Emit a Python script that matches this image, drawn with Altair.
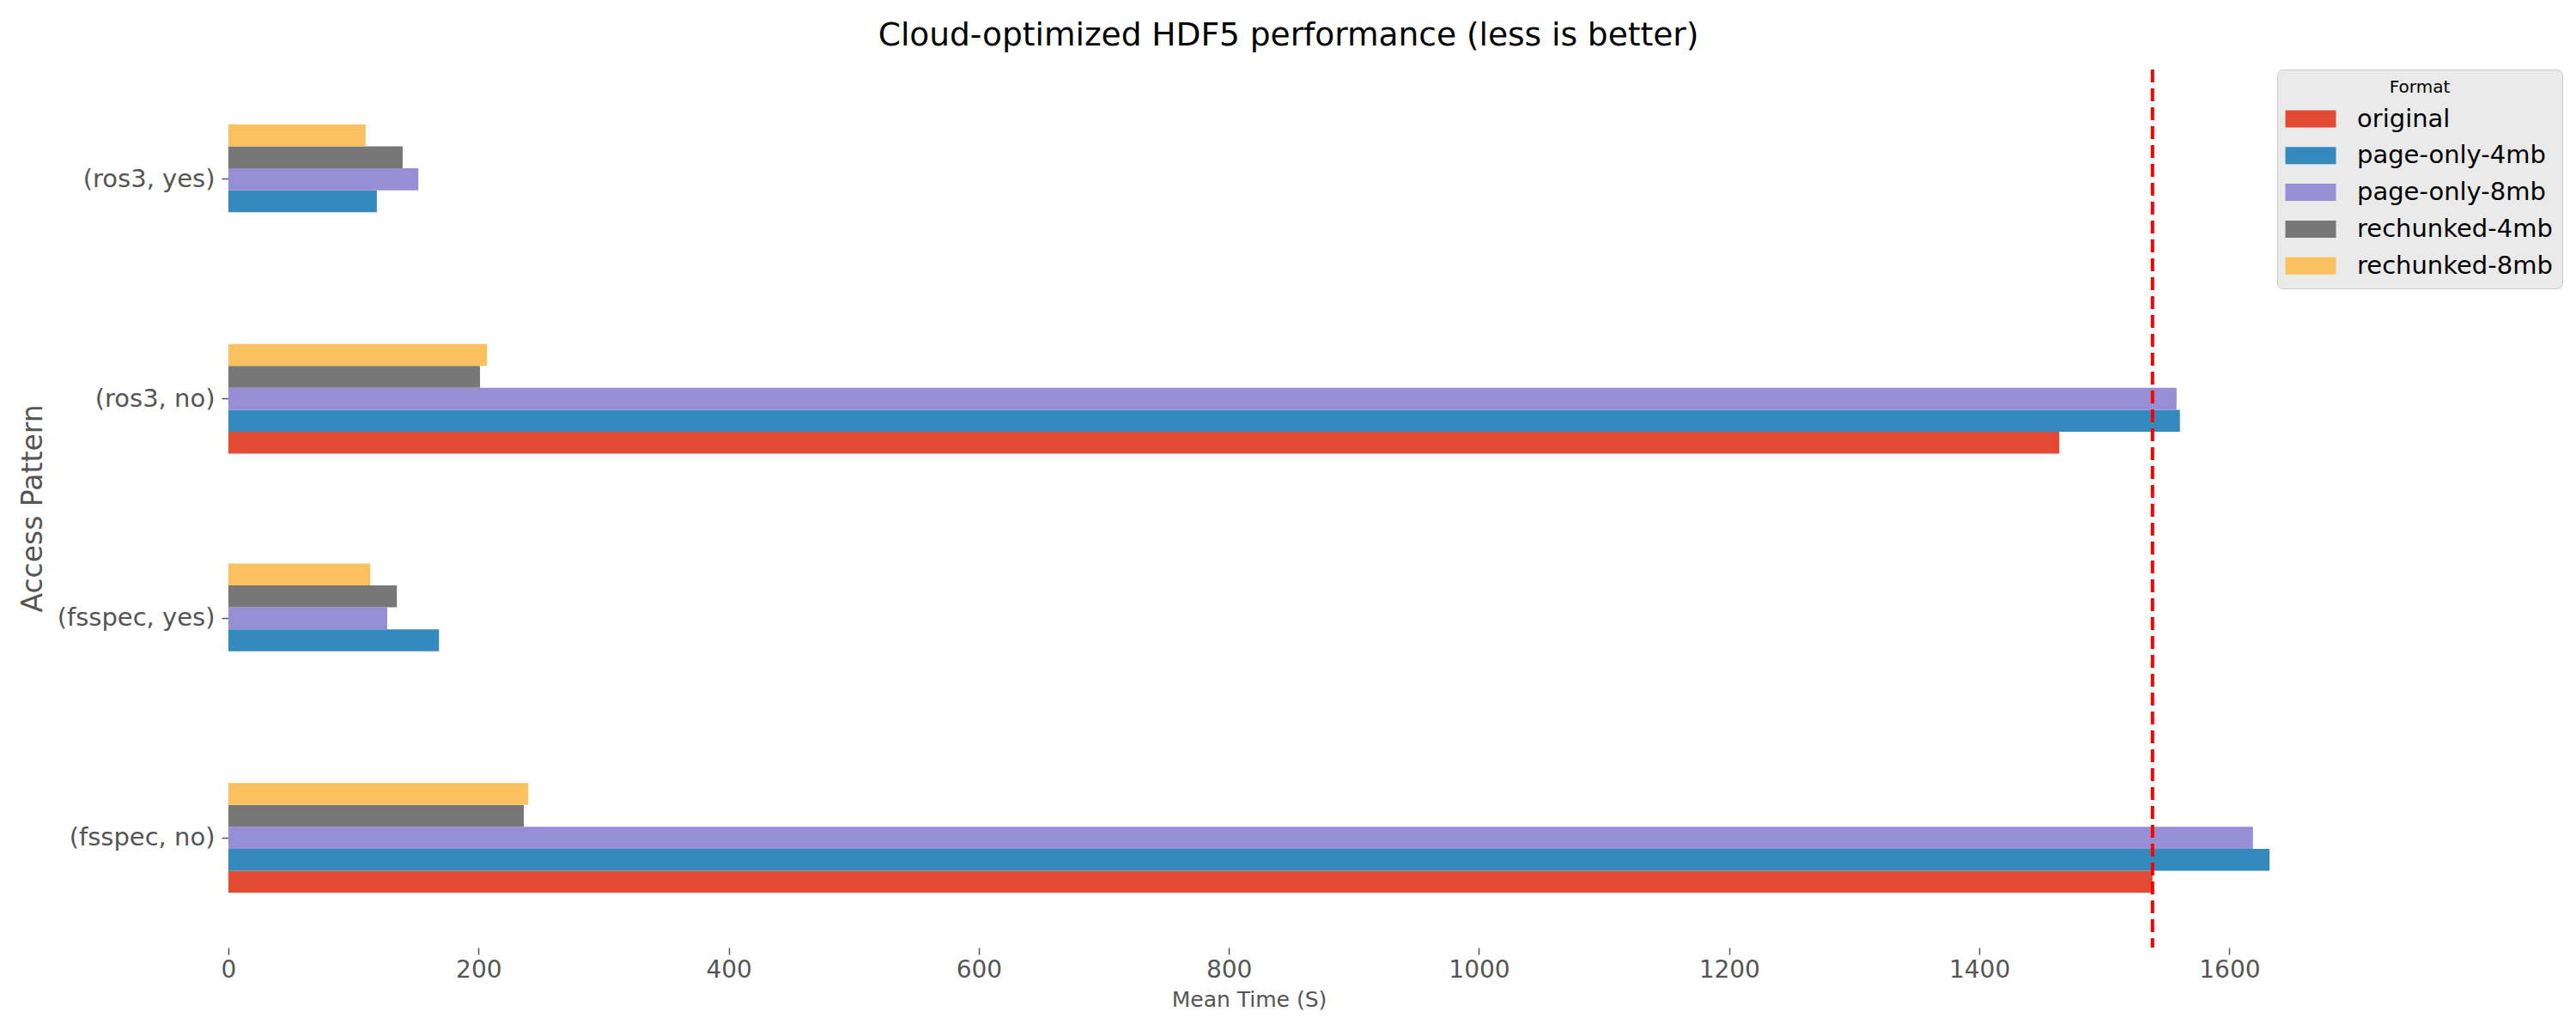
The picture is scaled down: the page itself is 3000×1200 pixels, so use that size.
import altair as alt
import pandas as pd

# ---- data ----
patterns = ["(fsspec, no)", "(fsspec, yes)", "(ros3, no)", "(ros3, yes)"]
formats = ["original", "page-only-4mb", "page-only-8mb", "rechunked-4mb", "rechunked-8mb"]
colors = ["#E24A33", "#348ABD", "#988ED5", "#777777", "#FBC15E"]

original      = [1538.5, None, 1464.0, None]
page_only_4mb = [1632.0, 168.4, 1560.4, 118.7]
page_only_8mb = [1618.8, 127.0, 1557.7, 151.9]
rechunked_4mb = [236.2, 134.7, 201.2, 139.3]
rechunked_8mb = [239.8, 113.4, 206.7, 109.7]
reference_line = [1538.5]

series = [original, page_only_4mb, page_only_8mb, rechunked_4mb, rechunked_8mb]
rows = []
for fmt, vals in zip(formats, series):
    for pat, v in zip(patterns, vals):
        if v is not None:
            rows.append({"Access Pattern": pat, "Format": fmt, "Mean Time": v})
df = pd.DataFrame(rows)

FONT = "DejaVu Sans"
GRAY = "#555555"

bars = alt.Chart(df).mark_bar().encode(
    x=alt.X("Mean Time:Q",
            scale=alt.Scale(domain=[0, 1632], nice=False, zero=True),
            axis=alt.Axis(title="Mean Time (S)", values=[0, 200, 400, 600, 800, 1000, 1200, 1400, 1600],
                          format="d", labelFlush=False,
                          grid=False, domain=False, tickSize=8, tickColor=GRAY, tickWidth=1.5,
                          labelFontSize=28, labelColor=GRAY, labelFont=FONT, labelPadding=4,
                          titleFontSize=25, titleColor=GRAY, titleFont=FONT, titleFontWeight="normal",
                          titleBaseline="middle", titleY=60)),
    y=alt.Y("Access Pattern:N",
            sort=list(reversed(patterns)),
            scale=alt.Scale(paddingInner=0.5, paddingOuter=0.25),
            axis=alt.Axis(title="Access Pattern", grid=False, domain=False, tickSize=8,
                          tickColor=GRAY, tickWidth=1.5, labelLimit=0,
                          labelFontSize=29, labelColor=GRAY, labelFont=FONT, labelPadding=8,
                          titleFontSize=33, titleColor=GRAY, titleFont=FONT, titleFontWeight="normal",
                          titleX=-228, titleY=511, titleAngle=-90, titleBaseline="middle",
                          titleAlign="center")),
    yOffset=alt.YOffset("Format:N", sort=list(reversed(formats)),
                        scale=alt.Scale(paddingInner=0, paddingOuter=0)),
    color=alt.Color("Format:N",
                    scale=alt.Scale(domain=formats, range=colors),
                    legend=alt.Legend(title="Format", orient="none", legendX=2386, legendY=0,
                                      titleFontSize=20, titleFont=FONT, titleColor="black",
                                      titleFontWeight="normal", titleAnchor="middle",
                                      titlePadding=12,
                                      labelFontSize=29, labelFont=FONT, labelColor="black",
                                      labelOffset=53, labelLimit=0,
                                      symbolType="M-1.6,-1L4.3,-1L4.3,1L-1.6,1Z", symbolSize=400,
                                      symbolStrokeWidth=0, symbolOpacity=1,
                                      rowPadding=12.8, padding=11,
                                      fillColor="#EAEAEA", strokeColor="#CCCCCC",
                                      cornerRadius=6)),
)

rule = alt.Chart(pd.DataFrame({"v": reference_line})).mark_rule(
    color="#FF0000", strokeWidth=4, strokeDash=[15, 7]
).encode(x="v:Q")

chart = alt.layer(bars, rule).properties(
    width=2377, height=1023,
    background="white",
    title=alt.TitleParams("Cloud-optimized HDF5 performance (less is better)",
                          fontSize=37.5, font=FONT, fontWeight="normal", color="black",
                          anchor="middle", baseline="middle", offset=43, dx=46, dy=43),
    autosize=alt.AutoSizeParams(type="none"),
    padding={"left": 266, "top": 81, "right": 357, "bottom": 96},
).configure_view(strokeWidth=0, stroke=None)

chart.save("out.html", embed_options={"renderer": "svg", "actions": False})
